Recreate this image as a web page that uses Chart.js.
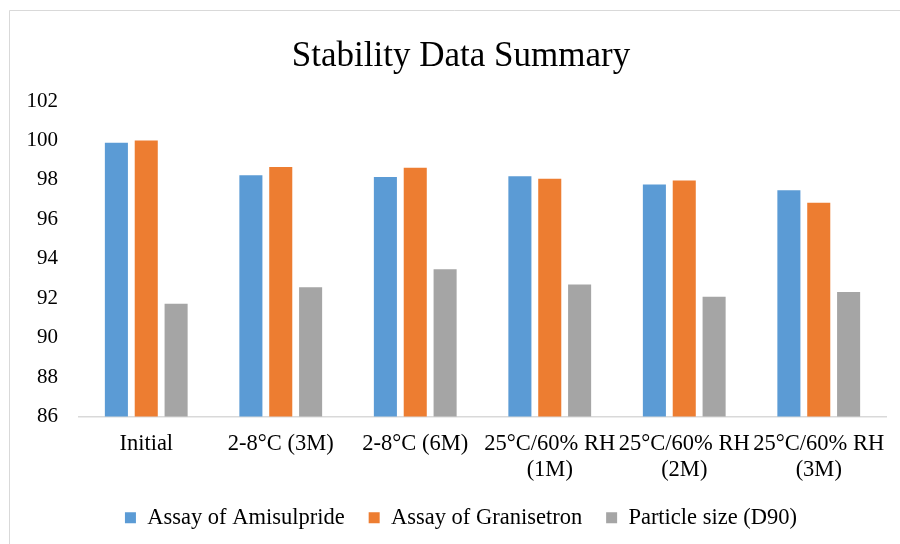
<!DOCTYPE html>
<html>
<head>
<meta charset="utf-8">
<title>Stability Data Summary</title>
<script src="https://cdn.jsdelivr.net/npm/chart.js@4.4.1/dist/chart.umd.min.js"></script>
<style>
    html, body { margin: 0; padding: 0; background: #fff; }
    #wrap { position: relative; width: 900px; height: 544px; }
</style>
</head>
<body>
<div id="wrap"><canvas id="stabilityChart" width="900" height="544"></canvas></div>
<script>
// storage conditions (two-line labels where the text wraps)
const conditions = [
    'Initial',
    '2-8°C (3M)',
    '2-8°C (6M)',
    ['25°C/60% RH', '(1M)'],
    ['25°C/60% RH', '(2M)'],
    ['25°C/60% RH', '(3M)']
];

const amisulpride = [99.88, 98.24, 98.14, 98.18, 97.77, 97.47];
const granisetron = [100.0, 98.65, 98.61, 98.06, 97.97, 96.84];
const particleD90 = [91.72, 92.56, 93.47, 92.70, 92.07, 92.32];

const yTicks = { min: 86, max: 102, step: 2 };

const serif = 'Liberation Serif, Times New Roman, serif';

// thin grey frame along the top and left edges
const framePlugin = {
    id: 'frame',
    beforeDraw(chart) {
        const ctx = chart.ctx;
        ctx.save();
        ctx.fillStyle = '#ffffff';
        ctx.fillRect(0, 0, chart.width, chart.height);
        ctx.strokeStyle = '#d9d9d9';
        ctx.lineWidth = 1;
        ctx.beginPath();
        ctx.moveTo(9.5, chart.height);
        ctx.lineTo(9.5, 10.5);
        ctx.lineTo(chart.width, 10.5);
        ctx.stroke();
        ctx.restore();
    }
};

const ctx = document.getElementById('stabilityChart').getContext('2d');
new Chart(ctx, {
    type: 'bar',
    data: {
        labels: conditions,
        datasets: [
            { label: 'Assay of Amisulpride', data: amisulpride, backgroundColor: '#5b9bd5' },
            { label: 'Assay of Granisetron', data: granisetron, backgroundColor: '#ed7d31' },
            { label: 'Particle size (D90)', data: particleD90, backgroundColor: '#a5a5a5' }
        ]
    },
    options: {
        responsive: false,
        animation: false,
        categoryPercentage: 0.666,
        barPercentage: 0.772,
        layout: { padding: { left: 22, right: 0, top: 0, bottom: 5 } },
        plugins: {
            title: {
                display: true,
                text: 'Stability Data Summary',
                color: '#000',
                font: { family: serif, size: 35, weight: 'normal' },
                padding: { top: 36, bottom: 23 }
            },
            legend: {
                position: 'bottom',
                labels: {
                    color: '#000',
                    font: { family: serif, size: 22.5 },
                    boxWidth: 11,
                    boxHeight: 11,
                    padding: 24
                }
            },
            tooltip: { enabled: false }
        },
        scales: {
            x: {
                grid: { display: false, drawTicks: false },
                border: { display: true, color: '#d9d9d9', width: 1.5 },
                ticks: {
                    color: '#000',
                    font: { family: serif, size: 22.5, lineHeight: 1.17 },
                    padding: 14,
                    maxRotation: 0,
                    autoSkip: false
                },
                afterFit(scale) { scale.height = 66; }
            },
            y: {
                min: yTicks.min,
                max: yTicks.max,
                grid: { display: false, drawTicks: false },
                border: { display: false },
                ticks: {
                    stepSize: yTicks.step,
                    color: '#000',
                    font: { family: serif, size: 21 },
                    padding: 21
                },
                afterFit(scale) { scale.width = 57; }
            },
            // empty right-hand margin so the plot ends short of the frame
            yRight: {
                position: 'right',
                grid: { display: false, drawTicks: false },
                border: { display: false },
                ticks: { display: false },
                afterFit(scale) { scale.width = 14; }
            }
        }
    },
    plugins: [framePlugin]
});
</script>
</body>
</html>
